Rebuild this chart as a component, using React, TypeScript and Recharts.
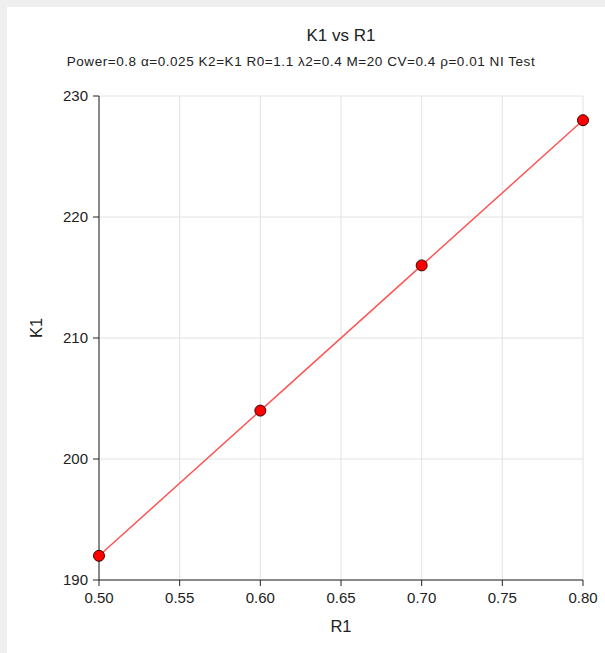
import React from 'react';
import { LineChart, Line, XAxis, YAxis, CartesianGrid } from 'recharts';

const r1Values = [0.5, 0.6, 0.7, 0.8];
const k1Values = [192, 204, 216, 228];
const xTicks = [0.5, 0.55, 0.6, 0.65, 0.7, 0.75, 0.8];
const yTicks = [190, 200, 210, 220, 230];

const data = r1Values.map((r, i) => ({ r1: r, k1: k1Values[i] }));

const FONT = '"Liberation Sans", Arial, sans-serif';

const Dot = (props: any) => {
  const { cx, cy } = props;
  return <circle cx={cx} cy={cy} r={5.5} fill="#ff0000" stroke="#3a0000" strokeWidth={1} />;
};

export default function App() {
  return (
    <div style={{ position: 'absolute', left: 0, top: 0, width: 605, height: 653, background: '#efefef', overflow: 'hidden', fontFamily: FONT }}>
      <div style={{ position: 'absolute', left: 7, top: 7, width: 598, height: 646, background: '#ffffff' }} />
      <div style={{ position: 'absolute', left: 0, top: 26, width: 682, textAlign: 'center', fontSize: 17, color: '#222', whiteSpace: 'nowrap' }}>K1 vs R1</div>
      <div style={{ position: 'absolute', left: 0, top: 54, width: 602, textAlign: 'center', fontSize: 13.5, letterSpacing: 0.55, color: '#222', whiteSpace: 'nowrap' }}>
        Power=0.8 α=0.025 K2=K1 R0=1.1 λ2=0.4 M=20 CV=0.4 ρ=0.01 NI Test
      </div>
      <div style={{ position: 'absolute', left: 0, top: 0 }}>
        <LineChart width={605} height={653} data={data} margin={{ top: 96, right: 22, left: 0, bottom: 0 }}>
          <CartesianGrid stroke="#e2e2e2" strokeWidth={1} />
          <XAxis
            dataKey="r1"
            type="number"
            domain={[0.5, 0.8]}
            ticks={xTicks}
            tickFormatter={(v: number) => v.toFixed(2)}
            height={73}
            tickSize={6}
            tickMargin={6}
            stroke="#222"
            tick={{ fill: '#222', fontSize: 15, fontFamily: FONT }}
            axisLine={{ stroke: '#222' }}
            tickLine={{ stroke: '#222' }}
            label={{ value: 'R1', position: 'insideBottom', offset: 21, fill: '#222', fontSize: 16.5, fontFamily: FONT }}
          />
          <YAxis
            dataKey="k1"
            type="number"
            domain={[190, 230]}
            ticks={yTicks}
            width={99}
            tickSize={6}
            tickMargin={5}
            stroke="#222"
            tick={{ fill: '#222', fontSize: 15, fontFamily: FONT }}
            axisLine={{ stroke: '#222' }}
            tickLine={{ stroke: '#222' }}
            label={{ value: 'K1', angle: -90, position: 'insideLeft', offset: 36, fill: '#222', fontSize: 16.5, fontFamily: FONT }}
          />
          <Line
            type="linear"
            dataKey="k1"
            stroke="#ff5555"
            strokeWidth={1.5}
            dot={<Dot />}
            activeDot={false}
            isAnimationActive={false}
          />
        </LineChart>
      </div>
    </div>
  );
}
